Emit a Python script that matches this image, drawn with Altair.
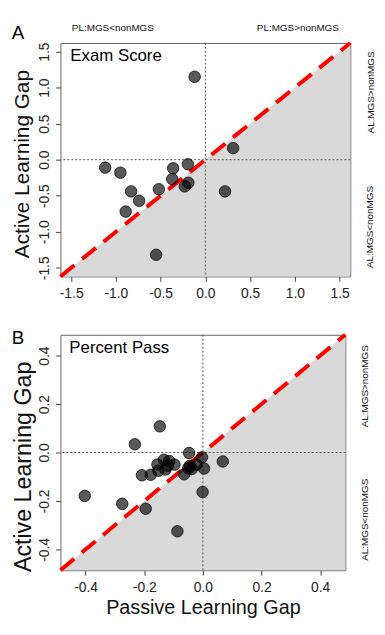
import altair as alt
import pandas as pd

FONT = "Liberation Sans"

# ---- Panel A: Exam Score ----
exam_passive = [-1.12, -0.95, -0.83, -0.74, -0.89, -0.52, -0.36, -0.37, -0.195, -0.19, -0.23, -0.55, 0.22, 0.31, -0.12]
exam_active = [-0.11, -0.18, -0.44, -0.57, -0.72, -0.41, -0.12, -0.27, -0.064, -0.32, -0.37, -1.32, -0.44, 0.16, 1.15]
exam_ticks = [-1.5, -1.0, -0.5, 0.0, 0.5, 1.0, 1.5]
exam_lim = 1.62

# ---- Panel B: Percent Pass ----
pass_passive = [-0.403, -0.275, -0.232, -0.195, -0.147, -0.087, -0.001, 0.068, -0.208, -0.178,
                -0.155, -0.133, -0.115, -0.097, -0.128, -0.152, -0.064, -0.047, -0.045, -0.038,
                -0.050, -0.022, -0.003, 0.004, -0.120]
pass_active = [-0.179, -0.212, 0.034, -0.232, 0.108, -0.325, -0.163, -0.037, -0.094, -0.092,
               -0.050, -0.030, -0.035, -0.050, -0.070, -0.075, -0.090, -0.002, -0.055, -0.068,
               -0.065, -0.050, -0.020, -0.066, -0.055]
pass_ticks = [-0.4, -0.2, 0.0, 0.2, 0.4]
pass_lim = 0.486

texts_top = ["PL:MGS<nonMGS", "PL:MGS>nonMGS"]
texts_right = ["AL:MGS>nonMGS", "AL:MGS<nonMGS"]
panel_titles = ["Exam Score", "Percent Pass"]
panel_letters = ["A", "B"]
y_title = "Active Learning Gap"
x_title = "Passive Learning Gap"


def txt(s, x, y, size, angle=0, align="center", baseline="middle", color="#111"):
    kw = dict(font=FONT, fontSize=size, align=align, baseline=baseline, color=color)
    if angle:
        kw["angle"] = angle
    return alt.Chart(pd.DataFrame({"t": [s]})).mark_text(**kw).encode(
        x=alt.value(x), y=alt.value(y), text="t:N")


def panel(px, py, lim, ticks, w, h, ytitle_size, ytitle_x, ytitle_y, show_xtitle, extras):
    pts = pd.DataFrame({"x": px, "y": py})
    diag = pd.DataFrame({"x": [-lim, lim], "y": [-lim, lim], "y0": [-lim, -lim]})
    xs = alt.Scale(domain=[-lim, lim], nice=False, zero=False)
    ys = alt.Scale(domain=[-lim, lim], nice=False, zero=False)

    xaxis = alt.Axis(values=ticks, format=".1f", labelFontSize=14, labelPadding=5,
                     labelOverlap=False, labelFlush=False,
                     title=x_title if show_xtitle else "", titleFontSize=20,
                     titleX=w / 2, titleY=44, titleAlign="center", titleBaseline="alphabetic")
    yaxis = alt.Axis(values=ticks, format=".1f", labelFontSize=14, labelAngle=270,
                     labelAlign="center", labelBaseline="bottom", labelPadding=4,
                     labelOverlap=False, labelFlush=False,
                     title=y_title, titleFontSize=ytitle_size, titleAngle=270,
                     titleAlign="center", titleBaseline="alphabetic",
                     titleX=ytitle_x, titleY=ytitle_y)

    def X(f):
        return alt.X(f, scale=xs, axis=xaxis)

    def Y(f):
        return alt.Y(f, scale=ys, axis=yaxis)

    area = alt.Chart(diag).mark_area(color="#d9d9d9").encode(x=X("x:Q"), y=Y("y:Q"), y2="y0:Q")
    vrule = alt.Chart(pd.DataFrame({"x": [0.0]})).mark_rule(
        color="#555", strokeWidth=1, strokeDash=[2, 2]).encode(x=X("x:Q"))
    hrule = alt.Chart(pd.DataFrame({"y": [0.0]})).mark_rule(
        color="#555", strokeWidth=1, strokeDash=[2, 2]).encode(y=Y("y:Q"))
    line = alt.Chart(diag).mark_line(color="#ff0000", strokeWidth=4, strokeDash=[18, 10]).encode(
        x=X("x:Q"), y=Y("y:Q"))
    points = alt.Chart(pts).mark_point(filled=True, fill="#000", fillOpacity=0.65,
                                       stroke="#000", strokeWidth=0.8, strokeOpacity=0.9,
                                       size=135, shape="circle").encode(x=X("x:Q"), y=Y("y:Q"))
    return alt.layer(area, vrule, hrule, line, points, *extras).properties(width=w, height=h)


extras_a = [
    txt(texts_top[0], 53, -15.3, 10),
    txt(texts_top[1], 240, -15.3, 10),
    txt(texts_right[0], 314, 50, 10, angle=270),
    txt(texts_right[1], 313, 186, 10, angle=270),
    txt(panel_letters[0], -43, -4, 19, baseline="alphabetic", color="#000"),
    txt(panel_titles[0], 10, 18, 17, align="left", baseline="alphabetic", color="#000"),
]
extras_b = [
    txt(texts_right[0], 308, 52, 10, angle=270),
    txt(texts_right[1], 308, 187, 10, angle=270),
    txt(panel_letters[1], -43, 9, 19, baseline="alphabetic", color="#000"),
    txt(panel_titles[1], 9, 18, 17, align="left", baseline="alphabetic", color="#000"),
]

chart_a = panel(exam_passive, exam_active, exam_lim, exam_ticks, 293, 236, 21, -32, 122, False, extras_a)
chart_b = panel(pass_passive, pass_active, pass_lim, pass_ticks, 288, 238, 23.5, -30, 133, True, extras_b)

chart = alt.vconcat(chart_a, chart_b, spacing=25).properties(
    padding={"left": 3, "top": 11, "right": 0, "bottom": 0}
).configure(
    locale={"number": {"decimal": ".", "thousands": ",", "grouping": [3],
                       "currency": ["$", ""], "minus": "-"}}
).configure_view(stroke="#666", strokeWidth=1).configure_axis(
    grid=False, domain=False, ticks=True, tickSize=5, tickColor="#444", tickWidth=1,
    labelFont=FONT, titleFont=FONT, labelColor="#222", titleColor="#111",
    titleFontWeight="normal", labelOverlap=False
)

chart.save("out.html", embed_options={"renderer": "svg", "actions": False})
